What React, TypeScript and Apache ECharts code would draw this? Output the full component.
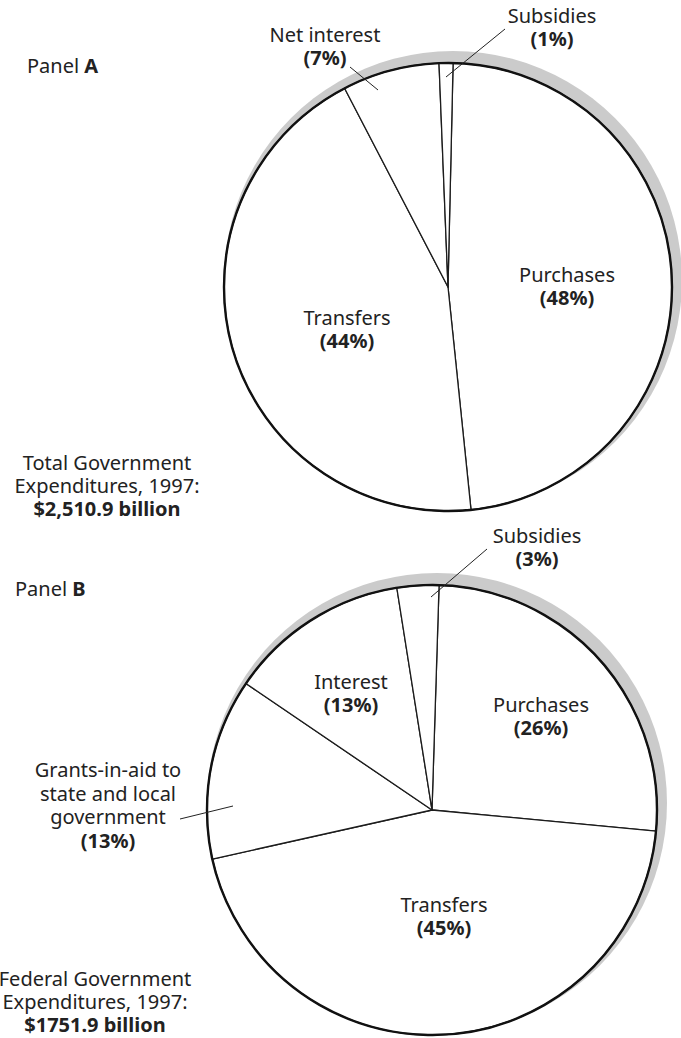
import React, { useEffect, useRef } from "react";
import * as echarts from "echarts";

// ---- Data ----
const panelANames = ["Purchases", "Transfers", "Net interest", "Subsidies"];
const panelAValues = [48, 44, 7, 1];
const panelBNames = ["Purchases", "Transfers", "Grants-in-aid to\nstate and local\ngovernment", "Interest", "Subsidies"];
const panelBValues = [26, 45, 13, 13, 3];
const panelATotal = ["Total Government", "Expenditures, 1997:", "$2,510.9 billion"];
const panelBTotal = ["Federal Government", "Expenditures, 1997:", "$1751.9 billion"];

// ---- Layout ----
const FONT = "'Noto Sans', 'Open Sans', sans-serif";
const FS = 20;
const LH = 23.5;
const TXT = "#222";
const A = { cx: 448, cy: 287, r: 224, start: 88.7 };
const B = { cx: 432, cy: 810, r: 225, start: 88.2 };
const labelPosA = [[567, 286], [347, 329], [325, 46], [552, 27]];
const labelPosB = [[541, 716], [444, 916], [108, 805], [351, 693], [537, 547]];
const leadersA = [[350, 67, 378, 90], [505, 29, 446, 77]];
const leadersB = [[487, 549, 431, 597], [180, 819, 233, 806]];

function makePie(P: any, names: string[], values: number[], pos: number[][]) {
  return {
    type: "pie",
    center: [P.cx, P.cy],
    radius: P.r,
    startAngle: P.start,
    clockwise: true,
    avoidLabelOverlap: false,
    silent: true,
    data: names.map((n, i) => ({ name: n, value: values[i] })),
    itemStyle: { color: "#ffffff", borderColor: "#1c1c1c", borderWidth: 1.3 },
    label: {
      show: true,
      position: "inside",
      formatter: (p: any) => `{n|${p.name}}\n{b|(${p.value}%)}`,
      rich: {
        n: { fontFamily: FONT, fontSize: FS, color: TXT, lineHeight: LH, align: "center" },
        b: { fontFamily: FONT, fontSize: FS, fontWeight: "bold", color: TXT, lineHeight: LH, align: "center" },
      },
    },
    labelLine: { show: false },
    labelLayout: (params: any) => {
      const q = pos[params.dataIndex];
      return { x: q[0], y: q[1], align: "center", verticalAlign: "middle" };
    },
    z: 2,
  };
}

function shadow(P: any) {
  return {
    type: "circle",
    shape: { cx: P.cx + 5, cy: P.cy - 7, r: P.r + 5 },
    style: { fill: "#cbcbcb" },
    z: 0,
    silent: true,
  };
}

function outline(P: any) {
  return {
    type: "circle",
    shape: { cx: P.cx, cy: P.cy, r: P.r },
    style: { fill: "none", stroke: "#111", lineWidth: 2.4 },
    z: 10,
    silent: true,
  };
}

function leader(l: number[]) {
  return {
    type: "line",
    shape: { x1: l[0], y1: l[1], x2: l[2], y2: l[3] },
    style: { stroke: "#222", lineWidth: 1 },
    z: 11,
    silent: true,
  };
}

function totalText(lines: string[], x: number, y0: number) {
  return lines.map((t, i) => ({
    type: "text",
    x,
    y: y0 + i * 23,
    z: 11,
    style: {
      text: t,
      align: "center",
      verticalAlign: "middle",
      fontFamily: FONT,
      fontSize: FS,
      fontWeight: i === 2 ? "bold" : "normal",
      fill: TXT,
    },
  }));
}

function panelText(letter: string, x: number, y: number) {
  return {
    type: "text",
    x,
    y,
    z: 11,
    style: {
      text: `{n|Panel }{b|${letter}}`,
      verticalAlign: "middle",
      rich: {
        n: { fontFamily: FONT, fontSize: FS, fill: TXT },
        b: { fontFamily: FONT, fontSize: FS, fontWeight: "bold", fill: TXT },
      },
    },
  };
}

export default function App() {
  const ref = useRef<HTMLDivElement>(null);
  useEffect(() => {
    document.body.style.margin = "0";
    const chart = echarts.init(ref.current!, null, { renderer: "svg" });
    chart.setOption({
      animation: false,
      backgroundColor: "#ffffff",
      series: [
        makePie(A, panelANames, panelAValues, labelPosA),
        makePie(B, panelBNames, panelBValues, labelPosB),
      ],
      graphic: {
        elements: [
          shadow(A),
          shadow(B),
          outline(A),
          outline(B),
          ...leadersA.map(leader),
          ...leadersB.map(leader),
          panelText("A", 27, 65),
          panelText("B", 15, 588),
          ...totalText(panelATotal, 107, 462),
          ...totalText(panelBTotal, 95, 978),
        ],
      },
    });
    return () => chart.dispose();
  }, []);
  return <div ref={ref} style={{ width: 681, height: 1038 }} />;
}
